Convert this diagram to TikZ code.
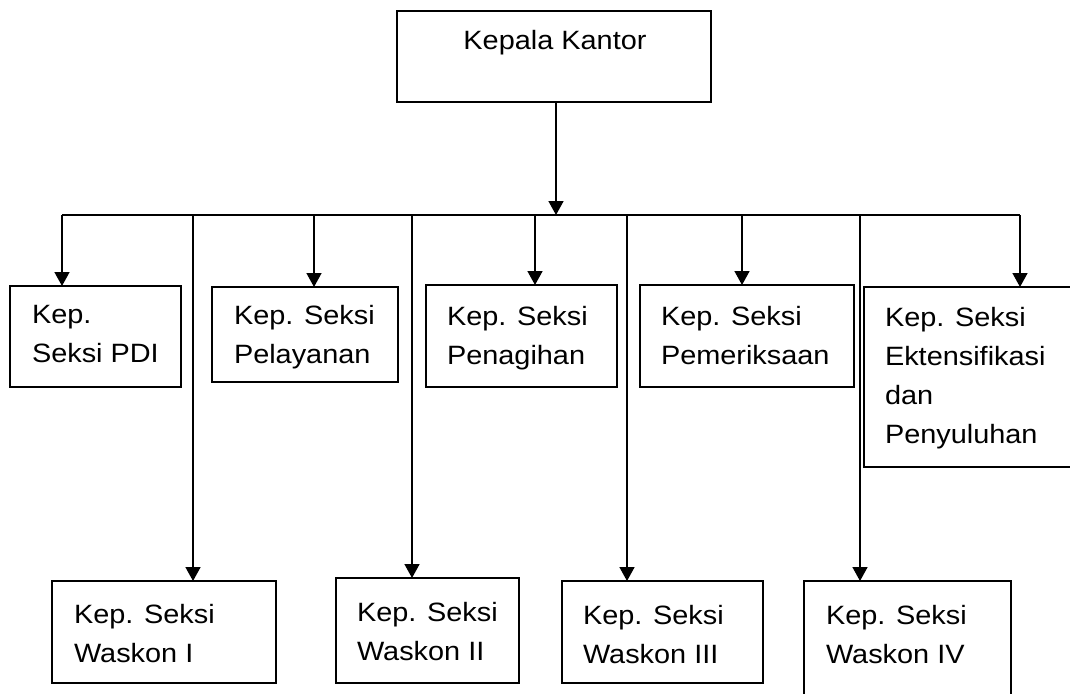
\documentclass[tikz,border=0pt]{standalone}
\usepackage{fontspec}
\setmainfont{Liberation Sans}[FakeStretch=1.09]
\usetikzlibrary{arrows.meta}
\begin{document}
\begin{tikzpicture}[x=1pt,y=1pt,
  box/.style={draw=black, line width=1.6pt, inner sep=0pt, outer sep=0pt, anchor=north west},
  lbl/.style={inner sep=0pt, outer sep=0pt, anchor=north west, align=left, font=\fontsize{26.5}{39}\selectfont},
  conn/.style={line width=1.6pt},
  arr/.style={line width=1.6pt, -{Triangle[width=15pt,length=14pt]}}]
\useasboundingbox (0,0) rectangle (1070,-693);
% boxes
\node[box, minimum width=314pt, minimum height=91pt] (kk) at (397,-11) {};
\node[box, minimum width=171pt, minimum height=101pt] (pdi) at (10,-286) {};
\node[box, minimum width=186pt, minimum height=95pt] (pel) at (212,-287) {};
\node[box, minimum width=191pt, minimum height=102pt] (pen) at (426,-285) {};
\node[box, minimum width=214pt, minimum height=102pt] (pem) at (640,-285) {};
\node[box, minimum width=216pt, minimum height=180pt] (ekt) at (864,-287) {};
\node[box, minimum width=224pt, minimum height=102pt] (w1) at (52,-581) {};
\node[box, minimum width=183pt, minimum height=105pt] (w2) at (336,-578) {};
\node[box, minimum width=201pt, minimum height=102pt] (w3) at (562,-581) {};
\node[box, minimum width=207pt, minimum height=124pt] (w4) at (804,-581) {};
% texts
\node[inner sep=0pt, anchor=base, font=\fontsize{26.5}{39}\selectfont] (tkk) at (555,-50) {Kepala Kantor};
\node[lbl] (tpdi) at (32,-305) {Kep.\\Seksi PDI};
\node[lbl] (tpel) at (234,-305) {Kep. Seksi\\Pelayanan};
\node[lbl] (tpen) at (447,-306) {Kep. Seksi\\Penagihan};
\node[lbl] (tpem) at (661,-306) {Kep. Seksi\\Pemeriksaan};
\node[lbl] (tekt) at (885,-307) {Kep. Seksi\\Ektensifikasi\\dan\\Penyuluhan};
\node[lbl] (tw1) at (74,-604) {Kep. Seksi\\Waskon I};
\node[lbl] (tw2) at (357,-602) {Kep. Seksi\\Waskon II};
\node[lbl] (tw3) at (583,-605) {Kep. Seksi\\Waskon III};
\node[lbl] (tw4) at (826,-605) {Kep. Seksi\\Waskon IV};
% bus coordinates
\coordinate (bm) at (556,-215);
\coordinate (bL) at (62,-215);
\coordinate (bR) at (1020,-215);
\coordinate (b2) at (314,-215);
\coordinate (b3) at (535,-215);
\coordinate (b4) at (742,-215);
\coordinate (c1) at (193,-215);
\coordinate (c2) at (412,-215);
\coordinate (c3) at (627,-215);
\coordinate (c4) at (860,-215);
% connectors
\draw[arr] (bm |- kk.south) -- (bm);
\draw[conn] (bL) -- (bR);
\draw[arr] (bL) -- (bL |- pdi.north);
\draw[arr] (b2) -- (b2 |- pel.north);
\draw[arr] (b3) -- (b3 |- pen.north);
\draw[arr] (b4) -- (b4 |- pem.north);
\draw[arr] (bR) -- (bR |- ekt.north);
\draw[arr] (c1) -- (c1 |- w1.north);
\draw[arr] (c2) -- (c2 |- w2.north);
\draw[arr] (c3) -- (c3 |- w3.north);
\draw[arr] (c4) -- (c4 |- w4.north);
\end{tikzpicture}
\end{document}
